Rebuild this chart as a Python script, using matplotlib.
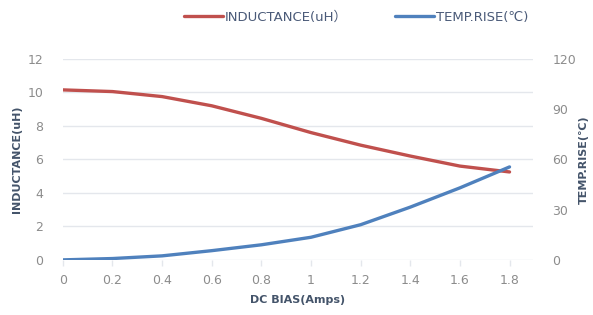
import matplotlib
matplotlib.use("Agg")
import matplotlib.pyplot as plt

# data
dc_bias = [0, 0.2, 0.4, 0.6, 0.8, 1.0, 1.2, 1.4, 1.6, 1.8]
inductance = [10.15, 10.05, 9.75, 9.2, 8.45, 7.6, 6.85, 6.2, 5.6, 5.25]
temp_rise = [0, 0.8, 2.4, 5.5, 9, 13.5, 21, 31.5, 43, 55.5]
x_ticks = [0, 0.2, 0.4, 0.6, 0.8, 1, 1.2, 1.4, 1.6, 1.8]
x_tick_labels = ["0", "0.2", "0.4", "0.6", "0.8", "1", "1.2", "1.4", "1.6", "1.8"]

fonts = ["DejaVu Sans", "Noto Sans CJK SC"]
plt.rcParams["font.family"] = fonts

red = "#c0504d"
blue = "#4f81bd"
tick_color = "#8c8c8c"
label_color = "#44546a"
grid_color = "#e4e7ec"

fig = plt.figure(figsize=(5.93, 3.15), dpi=100)
ax = fig.add_axes([0.106, 0.175, 0.793, 0.638])
ax2 = ax.twinx()

l1, = ax.plot(dc_bias, inductance, color=red, lw=2.4, solid_capstyle="round",
              label="INDUCTANCE(uH）")
l2, = ax2.plot(dc_bias, temp_rise, color=blue, lw=2.4, solid_capstyle="round",
               label="TEMP.RISE(℃)")

ax.set_xlim(0, 1.895)
ax.set_ylim(0, 12)
ax2.set_ylim(0, 120)
ax.set_yticks(range(0, 13, 2))
ax2.set_yticks(range(0, 121, 30))
ax.set_xticks(x_ticks)
ax.set_xticklabels(x_tick_labels)

ax.grid(axis="y", color=grid_color, lw=1)
ax.set_axisbelow(True)
for a in (ax, ax2):
    for s in a.spines.values():
        s.set_visible(False)

ax.tick_params(axis="x", colors=tick_color, labelsize=9, length=4, width=1,
               color=grid_color, pad=6)
ax.tick_params(axis="y", colors=tick_color, labelsize=9, length=0, pad=14)
ax2.tick_params(axis="y", colors=tick_color, labelsize=9, length=0, pad=14)

ax.set_xlabel("DC BIAS(Amps)", fontsize=8, fontweight="bold", color=label_color,
              labelpad=6)
ax.set_ylabel("INDUCTANCE(uH)", fontsize=8, fontweight="bold", color=label_color,
              labelpad=4)
ax2.set_ylabel("TEMP.RISE(℃)", fontsize=8, fontweight="bold", color=label_color,
               rotation=90, labelpad=2)

leg = fig.legend(handles=[l1, l2], loc="center", bbox_to_anchor=(0.6, 0.945),
                 ncol=2, frameon=False, fontsize=9.5, handlelength=3.0,
                 handletextpad=0.1, columnspacing=3.6)
for t in leg.get_texts():
    t.set_color("#4a5a78")

fig.savefig("out.png", dpi=100)
